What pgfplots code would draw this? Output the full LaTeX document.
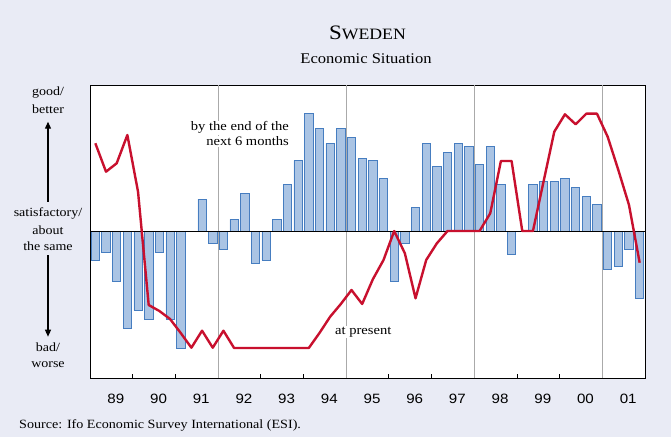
\documentclass[border=0pt]{standalone}
\usepackage{fontspec}
\setmainfont{Liberation Serif}[FakeStretch=1.12]
\setsansfont{Liberation Sans}[FakeStretch=1.12]
\usepackage{pgfplots}
\pgfplotsset{compat=1.18}
\usetikzlibrary{arrows.meta}
\definecolor{bg}{RGB}{233,235,245}
\definecolor{barfill}{RGB}{170,196,228}
\definecolor{baredge}{RGB}{70,125,192}
\definecolor{redline}{RGB}{200,16,46}
\definecolor{gridgray}{RGB}{170,170,170}
\begin{document}
\begin{tikzpicture}[x=1pt,y=1pt]
\fill[bg] (0,0) rectangle (671,437);
\useasboundingbox (0,0) rectangle (671,437);
\begin{axis}[
  at={(90pt,59pt)}, anchor=south west,
  scale only axis, width=555pt, height=293pt,
  xmin=0, xmax=52, ymin=-147, ymax=146,
  axis background/.style={fill=white},
  axis line style={black, line width=0.9pt},
  ytick=\empty,
  xtick={2,6,...,50},
  xticklabels={89,90,91,92,93,94,95,96,97,98,99,00,01},
  major tick length=0pt,
  minor xtick={4,8,...,48},
  minor tick length=4pt,
  xtick pos=left,
  tick style={black, line width=0.8pt},
  xticklabel style={font=\fontsize{13.5}{15}\selectfont\sffamily, yshift=-12.5pt, xshift=4.5pt},
  extra x ticks={12,24,36,48},
  extra x tick labels={},
  extra x tick style={grid=major, major tick length=0pt},
  major grid style={gridgray, line width=0.8pt},
]
\addplot[ybar, bar width=0.78, fill=barfill, draw=baredge, line width=0.7pt] coordinates {
(0.5,-29.7) (1.5,-21) (2.5,-50.3) (3.5,-97.3) (4.5,-79) (5.5,-88.3) (6.5,-21) (7.5,-88.3)
(8.5,-117.7) (10.5,32) (11.5,-12.3) (12.5,-18) (13.5,11.7) (14.5,37.7) (15.5,-32.7)
(16.5,-29.3) (17.5,11.7) (18.5,46.7) (19.5,70.3) (20.5,117.3) (21.5,102.3) (22.5,87.7)
(23.5,102.3) (24.5,93.7) (25.5,73) (26.5,70.3) (27.5,52.7) (28.5,-50.3) (29.5,-12.3)
(30.5,23.7) (31.5,87.7) (32.5,64.3) (33.5,79) (34.5,87.7) (35.5,84.7) (36.5,67)
(37.5,84.7) (38.5,46.7) (39.5,-23.7) (41.5,46.7) (42.5,50) (43.5,50) (44.5,52.7)
(45.5,44) (46.5,35) (47.5,26.3) (48.5,-38.3) (49.5,-35.7) (50.5,-18) (51.5,-67.7)
};
\draw[black, line width=1pt] (axis cs:0,0) -- (axis cs:52,0);
\addplot[redline, line width=2.4pt, line join=round, mark=none] coordinates {
(0.5,87.7) (1.5,59.3) (2.5,67.7) (3.5,96) (4.5,39.3) (5.5,-74) (6.5,-80) (7.5,-88)
(8.5,-102) (9.5,-116.7) (10.5,-99.7) (11.5,-116.7) (12.5,-99.7) (13.5,-117) (14.5,-117)
(15.5,-117) (16.5,-117) (17.5,-117) (18.5,-117) (19.5,-117) (20.5,-117) (21.5,-102)
(22.5,-85.7) (23.5,-73) (24.5,-59) (25.5,-73) (26.5,-48.3) (27.5,-29) (28.5,0)
(29.5,-22.3) (30.5,-67.3) (31.5,-29) (32.5,-12.3) (33.5,0) (34.5,0) (35.5,0) (36.5,0)
(37.5,17.7) (38.5,70) (39.5,70) (40.5,0) (41.5,0) (42.5,49.7) (43.5,99.3) (44.5,116.7)
(45.5,106.7) (46.5,117.3) (47.5,117.3) (48.5,94.3) (49.5,61) (50.5,26) (51.5,-31.7)
};
\end{axis}
% annotations in the plot
\begin{scope}[every node/.style={fill=white, inner sep=1pt, font=\fontsize{13}{15}\selectfont}]
\node[anchor=base east] at (290,306.3) {by the end of the};
\node[anchor=base east] at (290,291) {next 6 months};
\node[anchor=base west] at (334,102.7) {at present};
\end{scope}
% title
\node[anchor=base] at (367.5,397) {\fontsize{20.5}{22}\selectfont S\fontsize{15.8}{17}\selectfont WEDEN};
\node[anchor=base] at (366,373) {\fontsize{14.8}{17}\selectfont Economic Situation};
% left scale
\begin{scope}[every node/.style={anchor=base, inner sep=0pt, font=\fontsize{12.5}{15}\selectfont}]
\node at (48,341) {good/};
\node at (48,323.7) {better};
\node at (48,220.3) {satisfactory/};
\node at (48,203) {about};
\node at (48,186.3) {the same};
\node at (48,85.3) {bad/};
\node at (48,70) {worse};
\end{scope}
\draw[black, line width=1.2pt, -{Triangle[length=7pt,width=6pt]}] (48,235.3) -- (48,315.3);
\draw[black, line width=1.2pt, -{Triangle[length=7pt,width=6pt]}] (48,182) -- (48,100.3);
% source
\node[anchor=base west, inner sep=0pt, font=\fontsize{12.6}{15}\selectfont] at (19,9) {Source: Ifo Economic Survey International (ESI).};
\end{tikzpicture}
\end{document}
